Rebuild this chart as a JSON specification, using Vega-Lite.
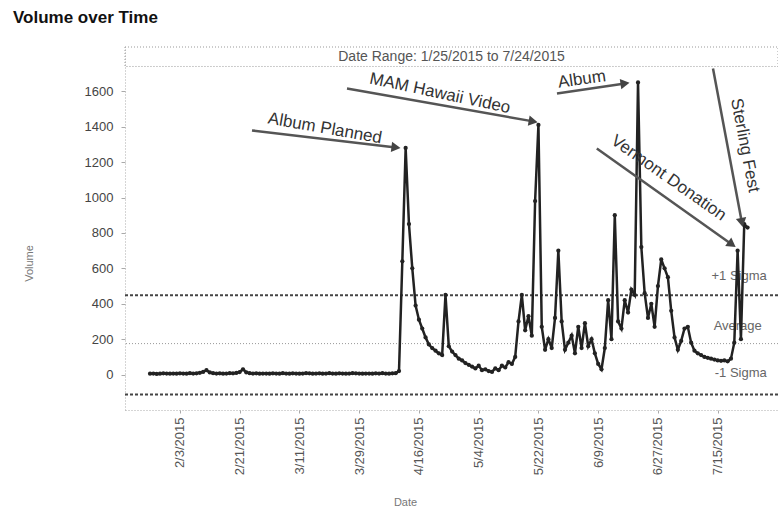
{
  "$schema": "https://vega.github.io/schema/vega-lite/v6.json",
  "width": 653,
  "height": 363,
  "autosize": {"type": "none"},
  "padding": {"left": 125, "top": 47, "right": 0, "bottom": 106},
  "title": {"text": "Volume over Time", "anchor": "start", "frame": "group", "dx": -112, "offset": 20, "fontSize": 17, "fontWeight": "bold", "font": "Liberation Sans", "color": "#111"},
  "config": {"view": {"stroke": null}, "font": "Liberation Sans"},
  "layer": [
    {
      "data": {"values": [{"label": "Date Range: 1/25/2015 to 7/24/2015"}]},
      "layer": [
        {"mark": {"type": "rect", "fill": "transparent", "stroke": "#999", "strokeWidth": 1, "strokeDash": [1, 2]},
         "encoding": {"y": {"datum": 1740, "type": "quantitative"}, "y2": {"datum": 1850}}},
        {"mark": {"type": "text", "fontSize": 14, "color": "#555"},
         "encoding": {"y": {"datum": 1795, "type": "quantitative"}, "text": {"field": "label"}}}
      ]
    },
    {
      "data": {"values": [{}]},
      "layer": [
        {"mark": {"type": "rule", "strokeDash": [3, 2], "strokeWidth": 2, "color": "#444"}, "encoding": {"y": {"datum": 448, "type": "quantitative"}}},
        {"mark": {"type": "rule", "strokeDash": [1, 2], "strokeWidth": 1, "color": "#999"}, "encoding": {"y": {"datum": 175, "type": "quantitative"}}},
        {"mark": {"type": "rule", "strokeDash": [3, 2], "strokeWidth": 2, "color": "#444"}, "encoding": {"y": {"datum": -112, "type": "quantitative"}}}
      ]
    },
    {
      "data": {"values": [
        {"label": "+1 Sigma", "date": "2015-07-29T19:00:00Z", "value": 554},
        {"label": "Average", "date": "2015-07-28T07:00:00Z", "value": 277},
        {"label": "-1 Sigma", "date": "2015-07-29T19:00:00Z", "value": 11}
      ]},
      "mark": {"type": "text", "align": "right", "baseline": "middle", "fontSize": 13, "color": "#666"},
      "encoding": {
        "x": {"field": "date", "type": "temporal", "title": "Date"},
        "y": {"field": "value", "type": "quantitative", "title": "Volume"},
        "text": {"field": "label"}
      }
    },
    {
      "data": {"values": [
        {"date": "2015-01-25", "volume": 5}, {"date": "2015-01-26", "volume": 6}, {"date": "2015-01-27", "volume": 4}, {"date": "2015-01-28", "volume": 5}, {"date": "2015-01-29", "volume": 7}, {"date": "2015-01-30", "volume": 6}, {"date": "2015-01-31", "volume": 5},
        {"date": "2015-02-01", "volume": 6}, {"date": "2015-02-02", "volume": 5}, {"date": "2015-02-03", "volume": 7}, {"date": "2015-02-04", "volume": 6}, {"date": "2015-02-05", "volume": 5}, {"date": "2015-02-06", "volume": 8}, {"date": "2015-02-07", "volume": 6}, {"date": "2015-02-08", "volume": 7}, {"date": "2015-02-09", "volume": 10}, {"date": "2015-02-10", "volume": 15}, {"date": "2015-02-11", "volume": 25}, {"date": "2015-02-12", "volume": 12}, {"date": "2015-02-13", "volume": 8}, {"date": "2015-02-14", "volume": 6}, {"date": "2015-02-15", "volume": 7}, {"date": "2015-02-16", "volume": 5}, {"date": "2015-02-17", "volume": 6}, {"date": "2015-02-18", "volume": 8}, {"date": "2015-02-19", "volume": 7}, {"date": "2015-02-20", "volume": 9}, {"date": "2015-02-21", "volume": 14}, {"date": "2015-02-22", "volume": 30}, {"date": "2015-02-23", "volume": 12}, {"date": "2015-02-24", "volume": 8}, {"date": "2015-02-25", "volume": 6}, {"date": "2015-02-26", "volume": 7}, {"date": "2015-02-27", "volume": 5}, {"date": "2015-02-28", "volume": 6},
        {"date": "2015-03-01", "volume": 6}, {"date": "2015-03-02", "volume": 5}, {"date": "2015-03-03", "volume": 7}, {"date": "2015-03-04", "volume": 6}, {"date": "2015-03-05", "volume": 5}, {"date": "2015-03-06", "volume": 8}, {"date": "2015-03-07", "volume": 6}, {"date": "2015-03-08", "volume": 5}, {"date": "2015-03-09", "volume": 7}, {"date": "2015-03-10", "volume": 6}, {"date": "2015-03-11", "volume": 5}, {"date": "2015-03-12", "volume": 6}, {"date": "2015-03-13", "volume": 8}, {"date": "2015-03-14", "volume": 7}, {"date": "2015-03-15", "volume": 5}, {"date": "2015-03-16", "volume": 6}, {"date": "2015-03-17", "volume": 7}, {"date": "2015-03-18", "volume": 5}, {"date": "2015-03-19", "volume": 6}, {"date": "2015-03-20", "volume": 8}, {"date": "2015-03-21", "volume": 6}, {"date": "2015-03-22", "volume": 5}, {"date": "2015-03-23", "volume": 7}, {"date": "2015-03-24", "volume": 6}, {"date": "2015-03-25", "volume": 5}, {"date": "2015-03-26", "volume": 6}, {"date": "2015-03-27", "volume": 8}, {"date": "2015-03-28", "volume": 7}, {"date": "2015-03-29", "volume": 6}, {"date": "2015-03-30", "volume": 5}, {"date": "2015-03-31", "volume": 6},
        {"date": "2015-04-01", "volume": 6}, {"date": "2015-04-02", "volume": 5}, {"date": "2015-04-03", "volume": 7}, {"date": "2015-04-04", "volume": 6}, {"date": "2015-04-05", "volume": 8}, {"date": "2015-04-06", "volume": 6}, {"date": "2015-04-07", "volume": 5}, {"date": "2015-04-08", "volume": 7}, {"date": "2015-04-09", "volume": 8}, {"date": "2015-04-10", "volume": 20}, {"date": "2015-04-11", "volume": 640}, {"date": "2015-04-12", "volume": 1280}, {"date": "2015-04-13", "volume": 850}, {"date": "2015-04-14", "volume": 600}, {"date": "2015-04-15", "volume": 390}, {"date": "2015-04-16", "volume": 310}, {"date": "2015-04-17", "volume": 260}, {"date": "2015-04-18", "volume": 210}, {"date": "2015-04-19", "volume": 170}, {"date": "2015-04-20", "volume": 150}, {"date": "2015-04-21", "volume": 135}, {"date": "2015-04-22", "volume": 120}, {"date": "2015-04-23", "volume": 110}, {"date": "2015-04-24", "volume": 450}, {"date": "2015-04-25", "volume": 160}, {"date": "2015-04-26", "volume": 130}, {"date": "2015-04-27", "volume": 110}, {"date": "2015-04-28", "volume": 90}, {"date": "2015-04-29", "volume": 80}, {"date": "2015-04-30", "volume": 65},
        {"date": "2015-05-01", "volume": 55}, {"date": "2015-05-02", "volume": 45}, {"date": "2015-05-03", "volume": 35}, {"date": "2015-05-04", "volume": 50}, {"date": "2015-05-05", "volume": 25}, {"date": "2015-05-06", "volume": 30}, {"date": "2015-05-07", "volume": 20}, {"date": "2015-05-08", "volume": 15}, {"date": "2015-05-09", "volume": 35}, {"date": "2015-05-10", "volume": 25}, {"date": "2015-05-11", "volume": 50}, {"date": "2015-05-12", "volume": 40}, {"date": "2015-05-13", "volume": 70}, {"date": "2015-05-14", "volume": 60}, {"date": "2015-05-15", "volume": 100}, {"date": "2015-05-16", "volume": 300}, {"date": "2015-05-17", "volume": 450}, {"date": "2015-05-18", "volume": 250}, {"date": "2015-05-19", "volume": 330}, {"date": "2015-05-20", "volume": 220}, {"date": "2015-05-21", "volume": 980}, {"date": "2015-05-22", "volume": 1410}, {"date": "2015-05-23", "volume": 270}, {"date": "2015-05-24", "volume": 140}, {"date": "2015-05-25", "volume": 200}, {"date": "2015-05-26", "volume": 150}, {"date": "2015-05-27", "volume": 320}, {"date": "2015-05-28", "volume": 700}, {"date": "2015-05-29", "volume": 300}, {"date": "2015-05-30", "volume": 140}, {"date": "2015-05-31", "volume": 180},
        {"date": "2015-06-01", "volume": 220}, {"date": "2015-06-02", "volume": 120}, {"date": "2015-06-03", "volume": 270}, {"date": "2015-06-04", "volume": 150}, {"date": "2015-06-05", "volume": 290}, {"date": "2015-06-06", "volume": 160}, {"date": "2015-06-07", "volume": 200}, {"date": "2015-06-08", "volume": 120}, {"date": "2015-06-09", "volume": 60}, {"date": "2015-06-10", "volume": 30}, {"date": "2015-06-11", "volume": 150}, {"date": "2015-06-12", "volume": 420}, {"date": "2015-06-13", "volume": 200}, {"date": "2015-06-14", "volume": 900}, {"date": "2015-06-15", "volume": 300}, {"date": "2015-06-16", "volume": 260}, {"date": "2015-06-17", "volume": 420}, {"date": "2015-06-18", "volume": 350}, {"date": "2015-06-19", "volume": 480}, {"date": "2015-06-20", "volume": 450}, {"date": "2015-06-21", "volume": 1650}, {"date": "2015-06-22", "volume": 720}, {"date": "2015-06-23", "volume": 460}, {"date": "2015-06-24", "volume": 320}, {"date": "2015-06-25", "volume": 400}, {"date": "2015-06-26", "volume": 270}, {"date": "2015-06-27", "volume": 500}, {"date": "2015-06-28", "volume": 650}, {"date": "2015-06-29", "volume": 600}, {"date": "2015-06-30", "volume": 550},
        {"date": "2015-07-01", "volume": 360}, {"date": "2015-07-02", "volume": 210}, {"date": "2015-07-03", "volume": 140}, {"date": "2015-07-04", "volume": 190}, {"date": "2015-07-05", "volume": 260}, {"date": "2015-07-06", "volume": 270}, {"date": "2015-07-07", "volume": 180}, {"date": "2015-07-08", "volume": 135}, {"date": "2015-07-09", "volume": 120}, {"date": "2015-07-10", "volume": 110}, {"date": "2015-07-11", "volume": 100}, {"date": "2015-07-12", "volume": 95}, {"date": "2015-07-13", "volume": 90}, {"date": "2015-07-14", "volume": 85}, {"date": "2015-07-15", "volume": 80}, {"date": "2015-07-16", "volume": 78}, {"date": "2015-07-17", "volume": 80}, {"date": "2015-07-18", "volume": 75}, {"date": "2015-07-19", "volume": 90}, {"date": "2015-07-20", "volume": 180}, {"date": "2015-07-21", "volume": 700}, {"date": "2015-07-22", "volume": 200}, {"date": "2015-07-23", "volume": 850}, {"date": "2015-07-24", "volume": 830}
      ]},
      "mark": {"type": "line", "color": "#222", "strokeWidth": 2.5, "point": {"filled": true, "size": 18, "color": "#222"}},
      "encoding": {
        "x": {"field": "date", "type": "temporal", "title": "Date",
              "scale": {"type": "utc", "domain": [{"year": 2015, "month": 1, "date": 17, "hours": 11, "utc": true}, {"year": 2015, "month": 8, "date": 2, "hours": 4, "utc": true}]},
              "axis": {"values": [
                {"year": 2015, "month": 2, "date": 3, "utc": true}, {"year": 2015, "month": 2, "date": 21, "utc": true},
                {"year": 2015, "month": 3, "date": 11, "utc": true}, {"year": 2015, "month": 3, "date": 29, "utc": true},
                {"year": 2015, "month": 4, "date": 16, "utc": true}, {"year": 2015, "month": 5, "date": 4, "utc": true},
                {"year": 2015, "month": 5, "date": 22, "utc": true}, {"year": 2015, "month": 6, "date": 9, "utc": true},
                {"year": 2015, "month": 6, "date": 27, "utc": true}, {"year": 2015, "month": 7, "date": 15, "utc": true}],
                "labelExpr": "utcFormat(datum.value, '%-m/%-d/%Y')", "labelAngle": -90, "labelAlign": "right", "labelBaseline": "middle",
                "labelFontSize": 13, "labelColor": "#555", "labelPadding": 4, "labelFlush": false, "labelOverlap": false,
                "domainColor": "#aaa", "domainDash": [1, 2], "tickColor": "#aaa", "tickSize": 3, "grid": false,
                "titleFontSize": 11, "titleColor": "#777", "titleFontWeight": "normal", "titleX": 280, "titleY": 92, "titleBaseline": "middle"}},
        "y": {"field": "volume", "type": "quantitative", "title": "Volume",
              "scale": {"domain": [-200, 1850], "nice": false, "zero": false},
              "axis": {"values": [0, 200, 400, 600, 800, 1000, 1200, 1400, 1600], "format": "d",
                "labelFontSize": 13, "labelColor": "#444", "labelPadding": 8, "tickSize": 4, "tickColor": "#aaa",
                "domainColor": "#aaa", "domainDash": [1, 2], "grid": false,
                "titleFontSize": 11, "titleColor": "#777", "titleFontWeight": "normal", "titleX": -96, "titleY": 216, "titleAngle": -90, "titleAlign": "center", "titleBaseline": "middle"}}
      }
    },
    {
      "data": {"values": [{"label": "Album Planned", "date": "2015-02-24T17:00:00Z", "value": 1379, "date2": "2015-04-09T02:00:00Z", "value2": 1283, "tdate": "2015-03-18T17:00:00Z", "tvalue": 1390}]},
      "layer": [
        {"mark": {"type": "rule", "color": "#555", "strokeWidth": 2.5}, "encoding": {"x": {"field": "date", "type": "temporal", "title": "Date"}, "y": {"field": "value", "type": "quantitative", "title": "Volume"}, "x2": {"field": "date2"}, "y2": {"field": "value2"}}},
        {"mark": {"type": "point", "shape": "triangle-right", "filled": true, "size": 110, "color": "#444", "opacity": 1, "angle": 6.7}, "encoding": {"x": {"field": "date2", "type": "temporal", "title": "Date"}, "y": {"field": "value2", "type": "quantitative", "title": "Volume"}}},
        {"mark": {"type": "text", "angle": 10, "fontSize": 17, "color": "#333"}, "encoding": {"x": {"field": "tdate", "type": "temporal", "title": "Date"}, "y": {"field": "tvalue", "type": "quantitative", "title": "Volume"}, "text": {"field": "label"}}}
      ]
    },
    {
      "data": {"values": [{"label": "MAM Hawaii Video", "date": "2015-03-25T08:00:00Z", "value": 1616, "date2": "2015-05-20T10:00:00Z", "value2": 1430, "tdate": "2015-04-22T08:00:00Z", "tvalue": 1588}]},
      "layer": [
        {"mark": {"type": "rule", "color": "#555", "strokeWidth": 2.5}, "encoding": {"x": {"field": "date", "type": "temporal", "title": "Date"}, "y": {"field": "value", "type": "quantitative", "title": "Volume"}, "x2": {"field": "date2"}, "y2": {"field": "value2"}}},
        {"mark": {"type": "point", "shape": "triangle-right", "filled": true, "size": 110, "color": "#444", "opacity": 1, "angle": 10.1}, "encoding": {"x": {"field": "date2", "type": "temporal", "title": "Date"}, "y": {"field": "value2", "type": "quantitative", "title": "Volume"}}},
        {"mark": {"type": "text", "angle": 12, "fontSize": 17, "color": "#333"}, "encoding": {"x": {"field": "tdate", "type": "temporal", "title": "Date"}, "y": {"field": "tvalue", "type": "quantitative", "title": "Volume"}, "text": {"field": "label"}}}
      ]
    },
    {
      "data": {"values": [{"label": "Album", "date": "2015-05-27T14:00:00Z", "value": 1588, "date2": "2015-06-17T02:00:00Z", "value2": 1644, "tdate": "2015-06-04T02:00:00Z", "tvalue": 1667}]},
      "layer": [
        {"mark": {"type": "rule", "color": "#555", "strokeWidth": 2.5}, "encoding": {"x": {"field": "date", "type": "temporal", "title": "Date"}, "y": {"field": "value", "type": "quantitative", "title": "Volume"}, "x2": {"field": "date2"}, "y2": {"field": "value2"}}},
        {"mark": {"type": "point", "shape": "triangle-right", "filled": true, "size": 110, "color": "#444", "opacity": 1, "angle": -8.4}, "encoding": {"x": {"field": "date2", "type": "temporal", "title": "Date"}, "y": {"field": "value2", "type": "quantitative", "title": "Volume"}}},
        {"mark": {"type": "text", "angle": -8, "fontSize": 17, "color": "#333"}, "encoding": {"x": {"field": "tdate", "type": "temporal", "title": "Date"}, "y": {"field": "tvalue", "type": "quantitative", "title": "Volume"}, "text": {"field": "label"}}}
      ]
    },
    {
      "data": {"values": [{"label": "Vermont Donation", "date": "2015-06-08T14:00:00Z", "value": 1277, "date2": "2015-07-19T07:00:00Z", "value2": 735, "tdate": "2015-06-30T05:00:00Z", "tvalue": 1110}]},
      "layer": [
        {"mark": {"type": "rule", "color": "#555", "strokeWidth": 2.5}, "encoding": {"x": {"field": "date", "type": "temporal", "title": "Date"}, "y": {"field": "value", "type": "quantitative", "title": "Volume"}, "x2": {"field": "date2"}, "y2": {"field": "value2"}}},
        {"mark": {"type": "point", "shape": "triangle-right", "filled": true, "size": 110, "color": "#444", "opacity": 1, "angle": 35.4}, "encoding": {"x": {"field": "date2", "type": "temporal", "title": "Date"}, "y": {"field": "value2", "type": "quantitative", "title": "Volume"}}},
        {"mark": {"type": "text", "angle": 35, "fontSize": 17, "color": "#333"}, "encoding": {"x": {"field": "tdate", "type": "temporal", "title": "Date"}, "y": {"field": "tvalue", "type": "quantitative", "title": "Volume"}, "text": {"field": "label"}}}
      ]
    },
    {
      "data": {"values": [{"label": "Sterling Fest", "date": "2015-07-13T14:00:00Z", "value": 1729, "date2": "2015-07-22T07:00:00Z", "value2": 859, "tdate": "2015-07-23T05:00:00Z", "tvalue": 1294}]},
      "layer": [
        {"mark": {"type": "rule", "color": "#555", "strokeWidth": 2.5}, "encoding": {"x": {"field": "date", "type": "temporal", "title": "Date"}, "y": {"field": "value", "type": "quantitative", "title": "Volume"}, "x2": {"field": "date2"}, "y2": {"field": "value2"}}},
        {"mark": {"type": "point", "shape": "triangle-right", "filled": true, "size": 110, "color": "#444", "opacity": 1, "angle": 79.3}, "encoding": {"x": {"field": "date2", "type": "temporal", "title": "Date"}, "y": {"field": "value2", "type": "quantitative", "title": "Volume"}}},
        {"mark": {"type": "text", "angle": 79, "fontSize": 17, "color": "#333"}, "encoding": {"x": {"field": "tdate", "type": "temporal", "title": "Date"}, "y": {"field": "tvalue", "type": "quantitative", "title": "Volume"}, "text": {"field": "label"}}}
      ]
    }
  ]
}
